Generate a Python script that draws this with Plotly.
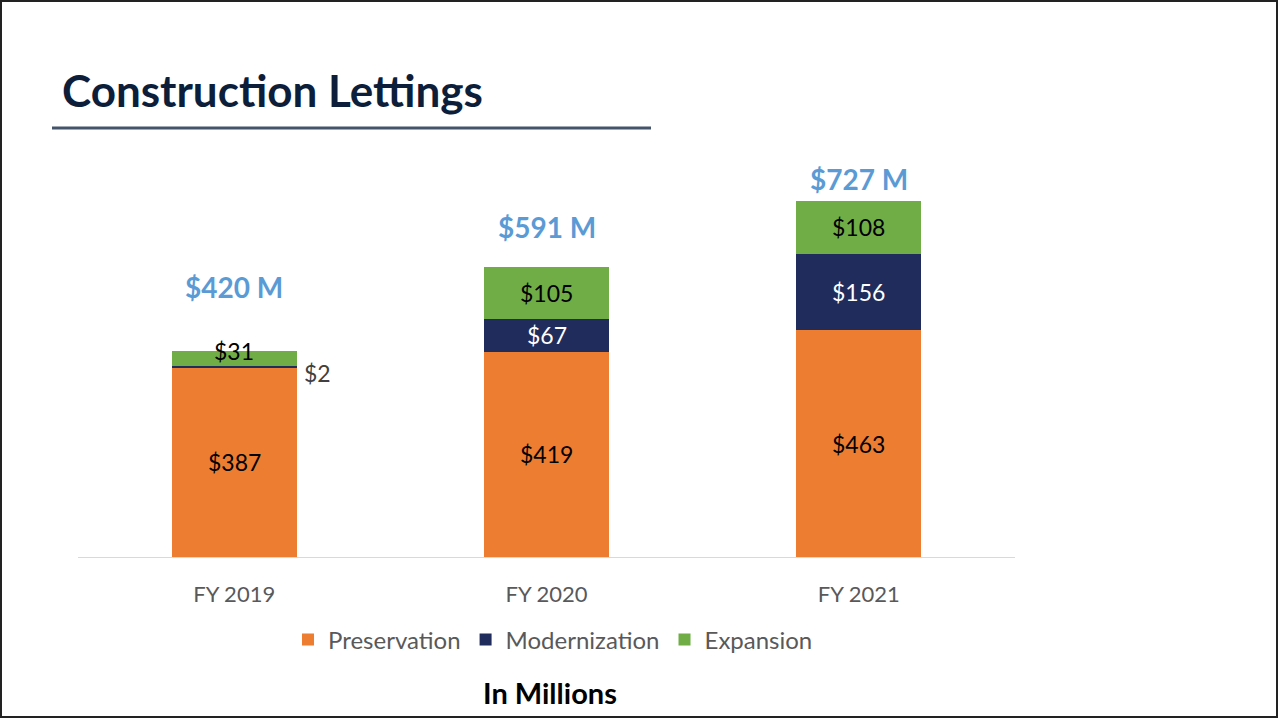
import plotly.graph_objects as go

categories = ["FY 2019", "FY 2020", "FY 2021"]
preservation = [387, 419, 463]
modernization = [2, 67, 156]
expansion = [31, 105, 108]
totals = [420, 591, 727]
total_labels = ["$420 M", "$591 M", "$727 M"]
total_label_gap = [131, 82, 44]

W, H = 1279, 719
L, R, T, B = 78, 1015, 165, 557
YMAX = 800

def px(x):
    return (x - L) / (R - L)

def py(y):
    return (B - y) / (B - T)

FONT = "Lato"
ORANGE = "#ED7D31"
NAVY = "#1F2C5C"
GREEN = "#70AD47"

fig = go.Figure()
fig.add_trace(go.Bar(name="Preservation", x=categories, y=preservation, marker_color=ORANGE, marker_line_width=0))
fig.add_trace(go.Bar(name="Modernization", x=categories, y=modernization, marker_color=NAVY, marker_line_width=0))
fig.add_trace(go.Bar(name="Expansion", x=categories, y=expansion, marker_color=GREEN, marker_line_width=0))

SEG = 23
ann = []
for i, c in enumerate(categories):
    p, m, e = preservation[i], modernization[i], expansion[i]
    ann.append(dict(x=c, y=p / 2, text=f"${p}", showarrow=False, font=dict(size=SEG, color="black", family=FONT)))
    if m >= 10:
        ann.append(dict(x=c, y=p + m / 2, text=f"${m}", showarrow=False, font=dict(size=SEG, color="white", family=FONT)))
        ann.append(dict(x=c, y=p + m + e / 2, text=f"${e}", showarrow=False, font=dict(size=SEG, color="black", family=FONT)))
    else:
        ann.append(dict(x=c, y=p + m, text=f"${m}", showarrow=False, xanchor="left", xshift=68, yshift=-7,
                        font=dict(size=SEG, color="#404040", family=FONT)))
        ann.append(dict(x=c, y=p + m + e, text=f"${e}", showarrow=False,
                        font=dict(size=SEG, color="black", family=FONT)))
    ann.append(dict(x=c, y=totals[i] + total_label_gap[i], text=f"<b>{total_labels[i]}</b>", showarrow=False,
                    font=dict(size=28, color="#5B9BD5", family=FONT)))

ann.append(dict(xref="paper", yref="paper", x=px(60), y=py(90), xanchor="left", yanchor="middle",
                text="<b>Construction Lettings</b>", showarrow=False,
                font=dict(size=44, color="#0C1E3A", family=FONT)))
ann.append(dict(xref="paper", yref="paper", x=px(550), y=py(692), xanchor="center", yanchor="middle",
                text="<b>In Millions</b>", showarrow=False,
                font=dict(size=29, color="black", family=FONT)))

shapes = [
    dict(type="line", xref="paper", yref="paper", x0=px(52), x1=px(651), y0=py(128), y1=py(128),
         line=dict(color="#44546A", width=3)),
    dict(type="rect", xref="paper", yref="paper", x0=px(1), x1=px(1277), y0=py(1), y1=py(717),
         line=dict(color="#222222", width=2)),
]

fig.update_layout(
    width=W, height=H,
    margin=dict(l=L, r=W - R, t=T, b=H - B),
    paper_bgcolor="white", plot_bgcolor="white",
    barmode="stack", bargap=0.6,
    font=dict(family=FONT, color="#595959"),
    xaxis=dict(showline=True, linecolor="#D9D9D9", linewidth=1, ticks="", showgrid=False,
               tickfont=dict(size=22, color="#595959", family=FONT), ticklabelstandoff=18),
    yaxis=dict(range=[0, YMAX], visible=False, showgrid=False),
    legend=dict(orientation="h", x=px(553), xanchor="center", y=py(640), yanchor="middle",
                font=dict(size=24, color="#595959", family=FONT), itemwidth=30, traceorder="normal"),
    annotations=ann, shapes=shapes, showlegend=True,
)

fig.write_html("out.html", config={"displayModeBar": False},
               post_script="document.body.style.margin='0';document.body.style.overflow='hidden';")
